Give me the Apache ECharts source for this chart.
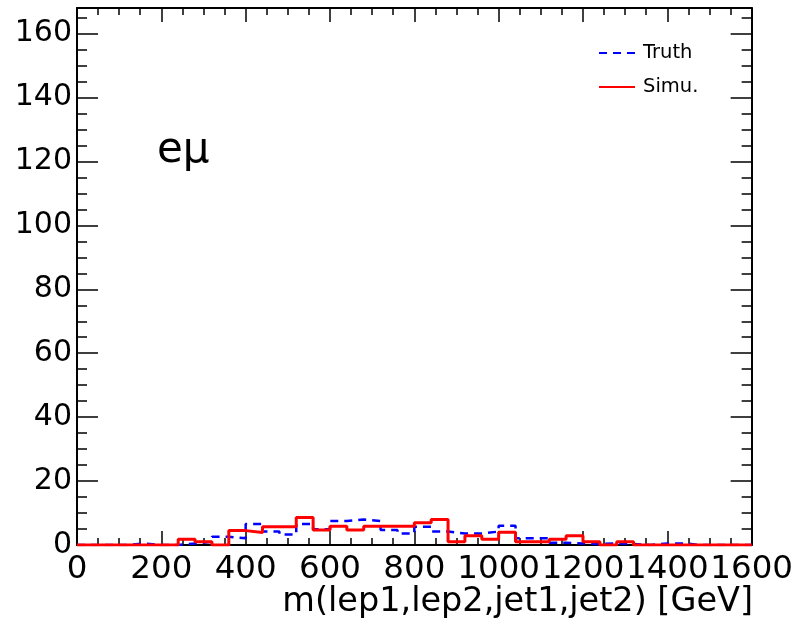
<!DOCTYPE html>
<html>
<head>
<meta charset="utf-8">
<script src="https://cdn.jsdelivr.net/npm/echarts@6/dist/echarts.min.js"></script>
<style>
html,body{margin:0;padding:0;background:#fff;}
#chart{width:796px;height:621px;}
</style>
</head>
<body>
<div id="chart"></div>
<script>
// Histogram bin lower edges (GeV), bin width 40
const binLowEdges = [0,40,80,120,160,200,240,280,320,360,400,440,480,520,560,600,640,680,720,760,
                     800,840,880,920,960,1000,1040,1080,1120,1160,1200,1240,1280,1320,1360,1400,1440,1480,1520,1560];
const binUpperEnd = 1600;
const truthValues = [0,0,0,0.5,0,0,0.5,1,2.6,2.1,6.6,4.2,3.3,6.6,4.9,7.5,8,7.5,4.7,3.6,
                     5.7,4.2,3.6,3.6,4.2,6,2.1,2.1,0.7,0.5,0.3,0.5,0.3,0,0.5,0.5,0,0,0,0];
const simuValues  = [0,0,0,0,0,0,1.8,1,0,4.5,3.9,5.7,5.7,8.6,4.7,5.9,4.7,5.9,5.9,5.9,
                     7,8,1,2.9,1.8,4,1,1,1.8,2.9,1,0,1,0,0,0,0,0,0,0];
const seriesNames = ['Truth','Simu.'];
const xTitle = 'm(lep1,lep2,jet1,jet2) [GeV]';
const channelLabel = 'eμ';

function stepData(vals){
  const d = binLowEdges.map((x,i)=>[x, vals[i]]);
  d.push([binUpperEnd, vals[vals.length-1]]);
  return d;
}

const FONT = 'DejaVu Sans';
const axisLine = {show:true, onZero:false, lineStyle:{color:'#000', width:2}};
function xAx(pos, showLabel){
  return {
    type:'value', min:0, max:1600, interval:200, position:pos,
    axisLine:axisLine,
    axisTick:{show:true, inside:true, length:14, lineStyle:{color:'#000', width:1.5}},
    minorTick:{show:true, splitNumber:4, length:7, lineStyle:{color:'#000', width:1.5}},
    axisLabel:{show:showLabel, margin:8, fontFamily:FONT, fontSize:32.5, color:'#000',
               showMinLabel:true, showMaxLabel:true, hideOverlap:false,
               formatter:function(v){return String(v);}},
    splitLine:{show:false}
  };
}
function yAx(pos, interval, len, showLabel, showLine){
  return {
    type:'value', min:0, max:168, interval:interval, position:pos,
    axisLine:Object.assign({}, axisLine, {show:showLine}),
    axisTick:{show:true, inside:true, length:len, lineStyle:{color:'#000', width:1.5}},
    axisLabel:{show:showLabel, showMaxLabel:false, margin:5, fontFamily:FONT, fontSize:30, color:'#000',
               formatter:function(v){return String(v);}},
    splitLine:{show:false}
  };
}

const chart = echarts.init(document.getElementById('chart'), null, {renderer:'canvas'});
chart.setOption({
  animation:false,
  backgroundColor:'#fff',
  grid:{left:77, right:44, top:8, bottom:76},
  xAxis:[xAx('bottom', true), xAx('top', false)],
  yAxis:[
    yAx('left', 20, 21, true, true),
    yAx('left', 5, 10, false, false),
    yAx('right', 20, 21, false, true),
    yAx('right', 5, 10, false, false)
  ],
  legend:{
    data:seriesNames, orient:'vertical', left:593, top:38,
    itemWidth:36, itemHeight:18, itemGap:14,
    itemStyle:{opacity:0},
    textStyle:{fontFamily:FONT, fontSize:19.5, color:'#000', padding:[0,0,0,3]}
  },
  series:[
    {name:seriesNames[0], type:'line', step:'end', symbol:'none', xAxisIndex:0, yAxisIndex:0,
     data:stepData(truthValues), lineStyle:{color:'#0000ff', width:2.5, type:[8,6]}, itemStyle:{color:'#0000ff'}, z:2},
    {name:seriesNames[1], type:'line', step:'end', symbol:'none', xAxisIndex:0, yAxisIndex:0,
     data:stepData(simuValues), lineStyle:{color:'#ff0000', width:3}, itemStyle:{color:'#ff0000'}, z:3}
  ],
  graphic:[
    {type:'text', left:157, top:130, style:{text:channelLabel, font:'42px "DejaVu Sans"', fill:'#000'}},
    {type:'text', right:43, top:585, style:{text:xTitle, font:'33.5px "DejaVu Sans"', fill:'#000'}}
  ]
});
</script>
</body>
</html>
